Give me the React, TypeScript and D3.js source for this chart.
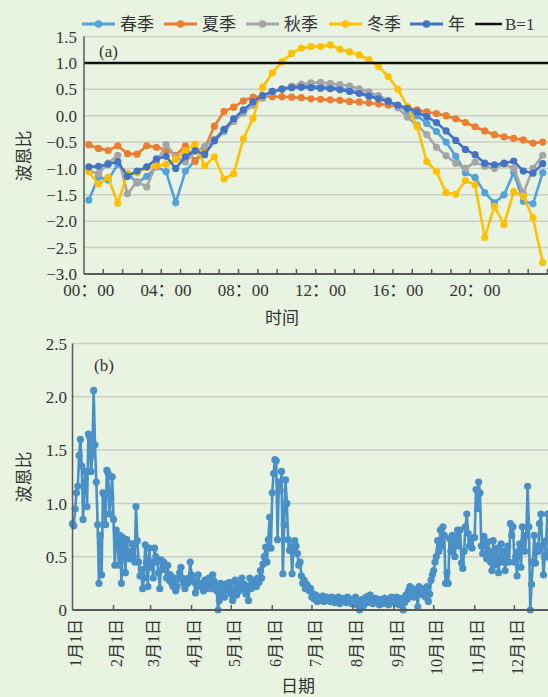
import React from 'react';
import * as d3 from 'd3';

// ---- panel (a) data: half-hourly ratio, 00:00 .. 23:30 ----
const halfHours = d3.range(48).map(i => `${String(Math.floor(i / 2)).padStart(2, '0')}:${i % 2 ? '30' : '00'}`);
const hourLabels = ['00：00', '04：00', '08：00', '12：00', '16：00', '20：00'];

const spring = [-1.6, -1.16, -1.22, -0.92, -1.1, -1.27, -1.15, -0.97, -1.06, -1.65, -1.05, -0.85,
  -0.72, -0.48, -0.3, -0.1, 0.08, 0.25, 0.37, 0.46, 0.51, 0.54, 0.56, 0.56,
  0.55, 0.54, 0.52, 0.48, 0.44, 0.39, 0.33, 0.27, 0.19, 0.1, 0.0, -0.15,
  -0.3, -0.5, -0.77, -1.08, -1.17, -1.46, -1.65, -1.5, -1.08, -1.62, -1.67, -1.08];
const summer = [-0.55, -0.62, -0.66, -0.57, -0.72, -0.73, -0.57, -0.6, -0.65, -0.75, -0.57, -0.87,
  -0.62, -0.2, 0.08, 0.16, 0.28, 0.35, 0.37, 0.36, 0.36, 0.35, 0.34, 0.32,
  0.31, 0.3, 0.29, 0.27, 0.26, 0.24, 0.22, 0.2, 0.18, 0.15, 0.11, 0.07,
  0.04, 0.0, -0.06, -0.13, -0.21, -0.29, -0.36, -0.4, -0.43, -0.46, -0.52, -0.5];
const autumn = [-1.05, -1.1, -0.9, -0.75, -1.48, -1.25, -1.35, -0.9, -0.55, -0.78, -0.88, -0.68,
  -0.58, -0.45, -0.27, -0.11, 0.05, 0.2, 0.33, 0.44, 0.51, 0.56, 0.6, 0.62,
  0.63, 0.61, 0.59, 0.56, 0.51, 0.45, 0.38, 0.29, 0.15, -0.03, -0.18, -0.36,
  -0.6, -0.76, -0.9, -1.0, -0.88, -0.96, -1.0, -0.92, -1.0, -1.47, -1.0, -0.75];
const winter = [-1.06, -1.3, -1.17, -1.66, -1.1, -1.08, -0.98, -0.95, -0.92, -0.83, -0.66, -0.54,
  -0.95, -0.78, -1.2, -1.1, -0.44, -0.05, 0.54, 0.81, 1.02, 1.18, 1.28, 1.31,
  1.31, 1.34, 1.26, 1.21, 1.15, 1.06, 0.93, 0.74, 0.5, 0.17, -0.21, -0.87,
  -1.06, -1.46, -1.49, -1.23, -1.31, -2.31, -1.72, -2.06, -1.44, -1.53, -1.94, -2.78];
const yearAvg = [-0.97, -0.96, -0.92, -0.87, -1.15, -1.05, -0.97, -0.82, -0.77, -1.0, -0.78, -0.66,
  -0.74, -0.47, -0.26, -0.06, 0.11, 0.26, 0.38, 0.46, 0.5, 0.53, 0.54, 0.53,
  0.52, 0.51, 0.49, 0.46, 0.42, 0.37, 0.32, 0.27, 0.2, 0.14, 0.07, -0.02,
  -0.13, -0.29, -0.47, -0.64, -0.74, -0.9, -0.93, -0.9, -0.86, -1.05, -1.09, -0.91];

const seriesA = [
  { name: '春季', color: '#52a2dc', values: spring },
  { name: '夏季', color: '#ed7d31', values: summer },
  { name: '秋季', color: '#a5a5a5', values: autumn },
  { name: '冬季', color: '#ffc000', values: winter },
  { name: '年', color: '#4472c4', values: yearAvg },
];
const yTicksA = [1.5, 1.0, 0.5, 0.0, -0.5, -1.0, -1.5, -2.0, -2.5, -3.0];

// ---- panel (b) data: daily ratio through the year ----
const jan = [0.81, 0.79, 0.95, 1.1, 1.16, 1.45, 1.6, 1.35, 0.85, 1.2, 1.3, 0.97, 1.65, 1.62, 1.3, 1.45, 2.06, 1.55, 1.2, 0.8, 0.25, 0.7, 0.33, 1.1, 1.08, 0.8, 1.31, 1.28, 0.9, 1.05, 1.25];
const feb = [0.85, 0.42, 0.75, 0.68, 0.42, 0.7, 0.25, 0.68, 0.6, 0.35, 0.66, 0.55, 0.48, 0.5, 0.62, 0.5, 0.45, 0.97, 0.65, 0.45, 0.32, 0.38, 0.2, 0.3, 0.61, 0.45, 0.22, 0.58];
const mar = [0.4, 0.45, 0.3, 0.58, 0.5, 0.45, 0.35, 0.2, 0.47, 0.38, 0.45, 0.39, 0.3, 0.42, 0.28, 0.33, 0.25, 0.22, 0.3, 0.18, 0.22, 0.29, 0.35, 0.4, 0.3, 0.25, 0.2, 0.29, 0.25, 0.3, 0.45];
const apr = [0.33, 0.28, 0.26, 0.16, 0.25, 0.33, 0.22, 0.25, 0.23, 0.18, 0.28, 0.2, 0.24, 0.3, 0.22, 0.2, 0.33, 0.27, 0.22, 0.18, 0.0, 0.09, 0.25, 0.15, 0.22, 0.12, 0.2, 0.25, 0.18, 0.26];
const may = [0.15, 0.09, 0.2, 0.28, 0.14, 0.22, 0.18, 0.25, 0.3, 0.2, 0.24, 0.15, 0.22, 0.09, 0.3, 0.2, 0.27, 0.24, 0.28, 0.22, 0.3, 0.26, 0.37, 0.3, 0.43, 0.5, 0.59, 0.45, 0.66, 0.87, 0.58];
const jun = [1.1, 1.28, 1.41, 1.4, 0.66, 1.2, 1.12, 1.3, 0.34, 0.8, 1.22, 1.0, 0.66, 0.56, 0.6, 0.34, 0.55, 0.65, 0.6, 0.53, 0.42, 0.45, 0.32, 0.25, 0.28, 0.2, 0.24, 0.22, 0.18, 0.2];
const jul = [0.12, 0.15, 0.1, 0.14, 0.08, 0.12, 0.1, 0.09, 0.13, 0.08, 0.1, 0.12, 0.09, 0.11, 0.08, 0.12, 0.1, 0.07, 0.11, 0.09, 0.12, 0.06, 0.1, 0.08, 0.11, 0.09, 0.07, 0.12, 0.1, 0.08, 0.06];
const aug = [0.1, 0.07, 0.12, 0.05, 0.08, 0.0, 0.06, 0.1, 0.04, 0.08, 0.12, 0.07, 0.09, 0.14, 0.1, 0.06, 0.08, 0.11, 0.07, 0.09, 0.05, 0.1, 0.08, 0.06, 0.11, 0.07, 0.09, 0.05, 0.08, 0.12, 0.1];
const sep = [0.1, 0.06, 0.12, 0.08, 0.05, 0.09, 0.11, 0.0, 0.07, 0.14, 0.1, 0.18, 0.22, 0.15, 0.2, 0.12, 0.18, 0.15, 0.03, 0.22, 0.16, 0.2, 0.14, 0.18, 0.12, 0.22, 0.08, 0.15, 0.28, 0.33];
const oct = [0.37, 0.45, 0.5, 0.65, 0.55, 0.75, 0.6, 0.78, 0.7, 0.25, 0.35, 0.25, 0.67, 0.55, 0.7, 0.62, 0.5, 0.68, 0.75, 0.6, 0.75, 0.44, 0.39, 0.55, 0.78, 0.9, 0.72, 0.6, 0.65, 0.58, 0.68];
const nov = [0.68, 1.13, 0.95, 1.2, 1.1, 0.6, 0.53, 0.69, 0.62, 0.48, 0.64, 0.55, 0.45, 0.37, 0.65, 0.42, 0.5, 0.58, 0.35, 0.48, 0.62, 0.45, 0.55, 0.37, 0.5, 0.6, 0.45, 0.81, 0.7, 0.78];
const dec = [0.45, 0.5, 0.32, 0.55, 0.62, 0.4, 0.78, 0.65, 0.55, 0.7, 1.16, 0.78, 0.0, 0.24, 0.45, 0.7, 0.44, 0.6, 0.55, 0.81, 0.9, 0.6, 0.33, 0.5, 0.65, 0.9, 0.55, 0.48, 0.7, 0.6, 0.5];
const dailyValues = [...jan, ...feb, ...mar, ...apr, ...may, ...jun, ...jul, ...aug, ...sep, ...oct, ...nov, ...dec];
const monthLabels = ['1月1日', '2月1日', '3月1日', '4月1日', '5月1日', '6月1日', '7月1日', '8月1日', '9月1日', '10月1日', '11月1日', '12月1日'];
const yTicksB = [2.5, 2.0, 1.5, 1.0, 0.5, 0];

const BG = '#e8f4e1';
const GRID = '#c9cec6';
const AXIS = '#5a5a5a';
const FONT = "'Liberation Serif', 'Noto Sans CJK SC', serif";

const fmtA = (v: number) => (v < 0 ? '\u2212' : '') + Math.abs(v).toFixed(1);

function PanelA() {
  const x = d3.scalePoint<string>().domain(halfHours).range([84, 547.5]).padding(0.5);
  const y = d3.scaleLinear().domain([-3, 1.5]).range([274, 36.5]);
  const step = x.step();
  const line = d3.line<number>().x((_, i) => x(halfHours[i]) as number).y(d => y(d));
  const hourEdges = d3.range(1, 25).map(k => 84 + k * 2 * step);

  const legend = [
    { name: '春季', color: '#52a2dc', x0: 82 },
    { name: '夏季', color: '#ed7d31', x0: 164 },
    { name: '秋季', color: '#a5a5a5', x0: 246 },
    { name: '冬季', color: '#ffc000', x0: 329 },
    { name: '年', color: '#4472c4', x0: 410 },
  ];

  return (
    <g fontFamily={FONT}>
      {/* legend */}
      {legend.map(l => (
        <g key={l.name}>
          <line x1={l.x0} x2={l.x0 + 33} y1={24} y2={24} stroke={l.color} strokeWidth={3} />
          <circle cx={l.x0 + 16.5} cy={24} r={3.8} fill={l.color} />
          <text x={l.x0 + 38} y={24} dy="0.36em" fontSize={17} fill="#333">{l.name}</text>
        </g>
      ))}
      <line x1={475} x2={502} y1={24} y2={24} stroke="#111" strokeWidth={2.5} />
      <text x={505} y={24} dy="0.36em" fontSize={17} fill="#333">B=1</text>

      {/* grid */}
      {yTicksA.map(t => (
        <line key={t} x1={84} x2={548} y1={y(t)} y2={y(t)} stroke={GRID} strokeWidth={1.5} />
      ))}
      {yTicksA.map(t => (
        <text key={'l' + t} x={77} y={y(t)} dy="0.36em" textAnchor="end" fontSize={17} fill="#333">{fmtA(t)}</text>
      ))}

      {/* series */}
      {seriesA.map(s => (
        <g key={s.name}>
          <path d={line(s.values) as string} fill="none" stroke={s.color} strokeWidth={2.6} />
          {s.values.map((v, i) => (
            <circle key={i} cx={x(halfHours[i])} cy={y(v)} r={3.6} fill={s.color} />
          ))}
        </g>
      ))}
      <line x1={84} x2={548} y1={y(1)} y2={y(1)} stroke="#111" strokeWidth={2.5} />

      {/* axes */}
      <line x1={84} x2={84} y1={36.5} y2={274} stroke={AXIS} strokeWidth={1.5} />
      <line x1={84} x2={548} y1={274} y2={274} stroke={AXIS} strokeWidth={2} />
      {hourEdges.map(e => (
        <line key={e} x1={e} x2={e} y1={274} y2={269} stroke={AXIS} strokeWidth={1.5} />
      ))}
      {hourLabels.map((l, k) => (
        <text key={l} x={x(halfHours[k * 8])} y={290} dy="0.36em" textAnchor="middle" fontSize={17} fill="#333">{l}</text>
      ))}
      <text x={99} y={51} dy="0.36em" fontSize={17} fill="#333">(a)</text>
      <text x={282} y={318} dy="0.36em" textAnchor="middle" fontSize={17} fill="#333">时间</text>
      <text transform="translate(24,156) rotate(-90)" dy="0.36em" textAnchor="middle" fontSize={17} fill="#333">波恩比</text>
    </g>
  );
}

function PanelB() {
  const start = new Date(2019, 0, 1);
  const end = new Date(2020, 0, 1);
  const days = d3.timeDay.range(start, end);
  const x = d3.scaleTime().domain([start, end]).range([72.5, 72.5 + 365 * 1.323]);
  const y = d3.scaleLinear().domain([0, 2.5]).range([610, 343.5]);
  const line = d3.line<number>().x((_, i) => x(days[i])).y(d => y(d));
  const months = d3.timeMonth.range(start, end);

  return (
    <g fontFamily={FONT}>
      {yTicksB.map(t => (
        <line key={t} x1={72.5} x2={548} y1={y(t)} y2={y(t)} stroke={GRID} strokeWidth={1.5} />
      ))}
      {yTicksB.map(t => (
        <text key={'l' + t} x={67} y={y(t)} dy="0.36em" textAnchor="end" fontSize={17} fill="#333">{t === 0 ? '0' : t.toFixed(1)}</text>
      ))}
      <path d={line(dailyValues) as string} fill="none" stroke="#4a90c8" strokeWidth={2.6} />
      {dailyValues.map((v, i) => (
        <circle key={i} cx={x(days[i])} cy={y(v)} r={3.6} fill="#4a90c8" />
      ))}
      <line x1={72.5} x2={72.5} y1={343.5} y2={610} stroke={AXIS} strokeWidth={1.5} />
      <line x1={72.5} x2={548} y1={610} y2={610} stroke={AXIS} strokeWidth={2} />
      {months.map((m, k) => (
        <g key={k}>
          {k > 0 && <line x1={x(m)} x2={x(m)} y1={610} y2={605} stroke={AXIS} strokeWidth={1.5} />}
          <text transform={`translate(${x(m) + 3},619) rotate(-90)`} dy="0.36em" textAnchor="end" fontSize={16} fill="#333">{monthLabels[k]}</text>
        </g>
      ))}
      <text x={94} y={365} dy="0.36em" fontSize={17} fill="#333">(b)</text>
      <text x={298} y={686} dy="0.36em" textAnchor="middle" fontSize={17} fill="#333">日期</text>
      <text transform="translate(24,477) rotate(-90)" dy="0.36em" textAnchor="middle" fontSize={17} fill="#333">波恩比</text>
    </g>
  );
}

export default function App() {
  return (
    <svg width={548} height={697} style={{ position: 'absolute', left: 0, top: 0 }}>
      <rect width={548} height={697} fill={BG} />
      <PanelA />
      <PanelB />
    </svg>
  );
}
